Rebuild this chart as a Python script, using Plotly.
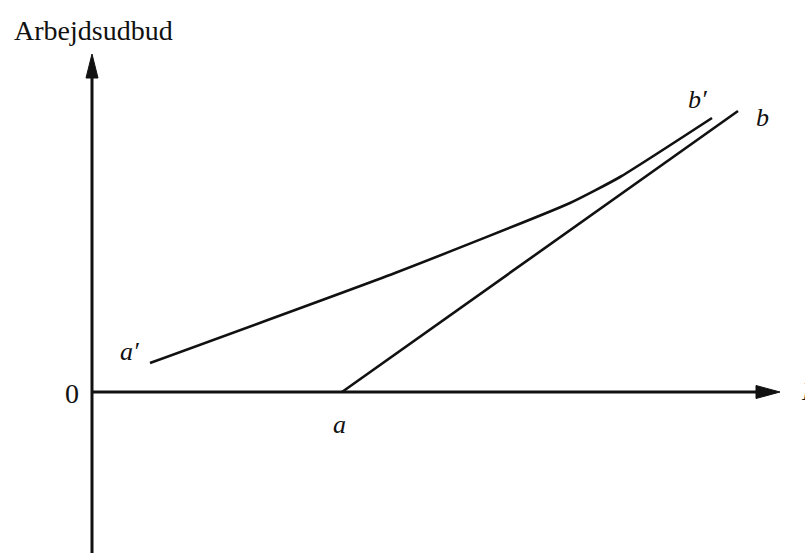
import plotly.graph_objects as go

# Linje a-b (ret linje fra a på den vandrette akse)
line_ab_x = [250, 646]
line_ab_y = [0, 281]

# Kurve a'-b'
curve_x = [58, 303, 478, 528, 620]
curve_y = [29, 119, 189, 215, 274]

# Akser
v_axis_x = [0, 0]
v_axis_y = [-161, 318]
h_axis_x = [0, 668]
h_axis_y = [0, 0]

SERIF = "Liberation Serif, Times New Roman, serif"
INK = "#111111"

fig = go.Figure()

fig.add_trace(go.Scatter(x=v_axis_x, y=v_axis_y, mode="lines",
                         line=dict(color=INK, width=3), hoverinfo="skip"))
fig.add_trace(go.Scatter(x=h_axis_x, y=h_axis_y, mode="lines",
                         line=dict(color=INK, width=3), hoverinfo="skip"))

fig.add_trace(go.Scatter(x=line_ab_x, y=line_ab_y, mode="lines",
                         line=dict(color=INK, width=2.6), name="a-b"))
fig.add_trace(go.Scatter(x=curve_x, y=curve_y, mode="lines",
                         line=dict(color=INK, width=2.6, shape="spline", smoothing=0.5),
                         name="a'-b'"))

# pilespidser
fig.add_shape(type="path", path="M -6,314 L 0,338 L 6,314 Z",
              fillcolor=INK, line=dict(color=INK, width=1))
fig.add_shape(type="path", path="M 664,-6.5 L 688,0 L 664,6.5 Z",
              fillcolor=INK, line=dict(color=INK, width=1))

labels = [
    ("Arbejdsudbud", -80, 362, "left", False),
    ("0", -20, -1, "center", False),
    ("a′", 37, 41, "center", True),
    ("a", 247, -32, "center", True),
    ("b′", 605, 293, "center", True),
    ("b", 670, 275, "center", True),
    ("I", 707, 1, "left", True),
]
for text, x, y, anchor, italic in labels:
    fig.add_annotation(
        x=x, y=y, text=f"<i>{text}</i>" if italic else text,
        showarrow=False, xanchor=anchor, yanchor="middle",
        font=dict(family=SERIF, size=28 if not italic else 26, color=INK),
    )

fig.update_layout(
    width=805,
    height=553,
    margin=dict(t=0, r=0, b=0, l=0),
    paper_bgcolor="white",
    plot_bgcolor="white",
    showlegend=False,
    xaxis=dict(range=[-92, 713], visible=False, fixedrange=True),
    yaxis=dict(range=[-161, 392], visible=False, fixedrange=True),
)

fig.write_html(
    "out.html",
    config={"displayModeBar": False},
    post_script="document.body.style.margin='0';document.body.style.overflow='hidden';",
)
